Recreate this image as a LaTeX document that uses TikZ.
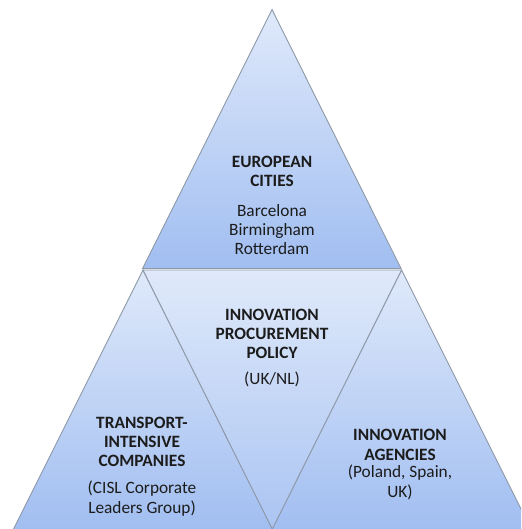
\documentclass[tikz,border=0pt]{standalone}
\usepackage{fontspec}
\setmainfont{Carlito}
\definecolor{lite}{HTML}{DFE9FA}
\definecolor{deep}{HTML}{A1BEF1}
\definecolor{edge}{HTML}{8E99A8}
\definecolor{ink}{HTML}{1C1C1C}
\tikzset{
  tri/.style={top color=lite, bottom color=deep, draw=edge, line width=0.9pt, line join=miter},
  inv/.style={top color=lite, bottom color=deep!85!lite, draw=edge, line width=0.9pt},
  lbl/.style={text=ink, align=center, inner sep=0pt, font=\fontsize{17.3}{19.3}\selectfont},
  hd/.style={lbl, font=\fontsize{17.3}{19.3}\selectfont\bfseries}
}
\begin{document}
\begin{tikzpicture}[x=1pt,y=-1pt]
\path[use as bounding box] (0,0) rectangle (521,529);
\clip (0,0) rectangle (521,529);
\fill[white] (0,0) rectangle (521,529);
% top triangle
\shade[tri] (272,9.5) -- (401,268.5) -- (142.5,268.5) -- cycle;
% left triangle
\shade[tri] (143,270) -- (273,530) -- (13,530) -- cycle;
% right triangle
\shade[tri] (401.5,270) -- (531.5,530) -- (271.5,530) -- cycle;
% middle inverted triangle
\shade[inv] (143,270) -- (401.5,270) -- (272.3,529) -- cycle;
% texts
\node[hd]  (ech) at (272,171.5) {EUROPEAN\\CITIES};
\node[lbl] (ecl) at (272,229.5) {Barcelona\\Birmingham\\Rotterdam};
\node[hd]  (iph) at (272,334) {INNOVATION\\PROCUREMENT\\POLICY};
\node[lbl] (ipl) at (272,379.5) {(UK/NL)};
\node[hd]  (tch) at (142,442) {TRANSPORT-\\INTENSIVE\\COMPANIES};
\node[lbl] (tcl) at (142,498.5) {(CISL Corporate\\Leaders Group)};
\node[hd]  (iah) at (400,445) {INNOVATION\\AGENCIES};
\node[lbl] (ial) at (400,482.5) {(Poland, Spain,\\UK)};
\end{tikzpicture}
\end{document}
